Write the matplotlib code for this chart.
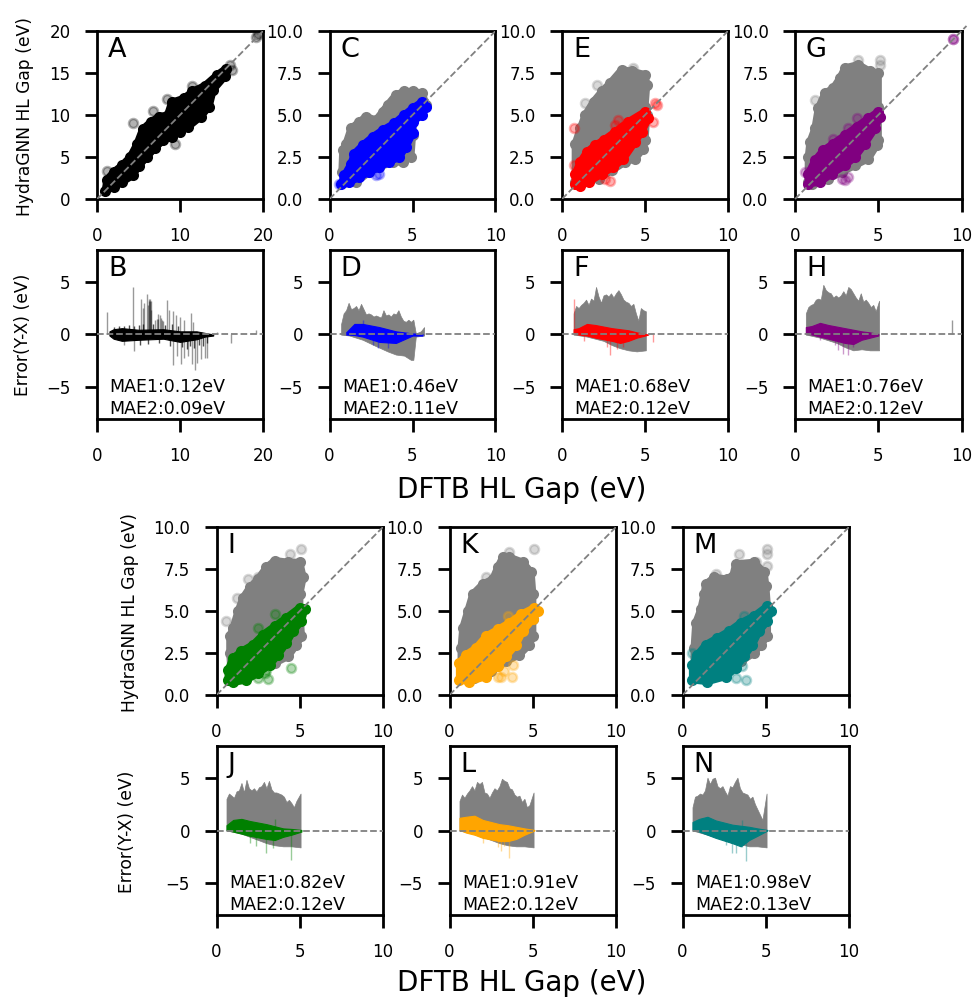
"""plot.py

HydraGNN vs DFTB HL gap parity and error panels.
Clouds are outlines read off the picture, spikes and outliers are listed by hand.
"""

import matplotlib

matplotlib.use("Agg")
import matplotlib.pyplot as plt

W, H = 974, 998
GRAY = "gray"

plt.rcParams.update(
    {
        "axes.linewidth": 2.0,
        "xtick.major.size": 9,
        "ytick.major.size": 9,
        "xtick.major.width": 2.0,
        "ytick.major.width": 2.0,
        "xtick.major.pad": 11,
        "ytick.major.pad": 10,
        "xtick.labelsize": 12,
        "ytick.labelsize": 12,
    }
)

# Parity panels: cloud outlines (x, y) and stray points
A_X = [1, 1.2, 2, 3, 4, 4.8, 5.5, 6.5, 7.5, 8.5, 9, 10.5, 11.5, 13, 14.5, 15.5, 15.4, 14, 13.5, 12.5, 11, 10, 9, 8, 7, 6, 5, 4.3, 3, 2]
A_Y = [1, 2.3, 3.2, 4, 5, 6.5, 8.3, 9.2, 9.8, 10, 11.5, 12, 12.8, 13.5, 14.8, 15.5, 14.6, 13, 11, 9.8, 8.6, 8, 7.4, 7, 6.1, 5, 3.9, 2.8, 2, 1.4]
A_OUT_X = [19.2, 19.4, 16, 16.3, 4.3, 9.4, 11.4, 1.2, 6.8, 8.4, 12.8]
A_OUT_Y = [19.3, 19.6, 16, 15.3, 9, 6.5, 13.4, 3.3, 10.5, 11.9, 11.2]

C_GRAY_X = [0.9, 0.75, 0.8, 1.0, 1.3, 1.8, 2.2, 2.8, 3.2, 3.5, 4.0, 4.5, 5.0, 5.6, 5.8, 5.1, 5.0, 4.9, 4.4, 3.8, 3.0, 2.4, 1.6]
C_GRAY_Y = [1.0, 1.6, 2.9, 3.3, 4.2, 4.6, 4.9, 4.7, 5.2, 5.6, 6.2, 6.4, 6.4, 6.3, 5.6, 4.9, 3.8, 2.5, 2.2, 2.2, 1.9, 1.6, 1.0]
C_X = [0.7, 0.9, 1.3, 1.5, 2.0, 2.6, 3.2, 3.9, 4.5, 5.0, 5.6, 5.8, 5.6, 5.0, 5.0, 4.6, 4.2, 3.6, 3.0, 2.4, 1.8, 1.2]
C_Y = [0.9, 1.4, 2.1, 2.7, 3.2, 3.7, 4.1, 4.5, 5.0, 5.4, 5.8, 5.5, 5.0, 4.6, 3.9, 3.1, 2.5, 2.2, 1.9, 1.6, 1.3, 1.0]
C_OUT_X = [3.0, 2.8, 0.6]
C_OUT_Y = [1.5, 1.4, 0.9]

E_GRAY_X = [0.8, 0.8, 1.1, 1.4, 1.9, 2.4, 2.9, 3.6, 4.2, 5.0, 5.1, 5.0, 5.1, 5.0, 4.9, 4.4, 3.8, 3.0, 2.2, 1.0]
E_GRAY_Y = [1.0, 3.3, 4.2, 5.0, 5.8, 6.4, 6.9, 7.7, 7.6, 7.4, 6.8, 5.5, 5.0, 3.5, 3.0, 2.4, 2.2, 1.7, 1.2, 1.0]
E_GRAY_OUT_X = [1.4, 2.1, 4.3]
E_GRAY_OUT_Y = [5.7, 6.8, 7.8]
E_X = [0.8, 0.8, 1.1, 1.5, 2.0, 2.5, 3.2, 4.0, 5.0, 5.2, 4.8, 4.4, 3.7, 3.1, 2.4, 1.6, 1.1]
E_Y = [0.9, 1.5, 2.2, 2.8, 3.2, 3.5, 4.0, 4.6, 5.2, 4.8, 4.0, 3.4, 2.4, 1.9, 1.5, 1.0, 0.8]
E_OUT_X = [0.7, 5.6, 5.7, 5.5, 3.4, 3.2, 2.6, 2.9, 2.4, 0.7]
E_OUT_Y = [4.2, 5.7, 5.6, 4.6, 4.7, 4.4, 1.2, 1.05, 1.8, 2.0]

G_GRAY_X = [0.8, 0.8, 0.9, 1.2, 1.4, 1.8, 2.3, 2.7, 3.0, 3.8, 4.5, 5.0, 5.0, 5.0, 4.9, 4.4, 3.6, 2.8, 2.0, 1.0]
G_GRAY_Y = [1.0, 2.5, 3.4, 4.2, 5.4, 6.3, 6.6, 7.2, 7.8, 8.0, 7.6, 7.5, 5.5, 3.5, 3.2, 2.4, 2.0, 1.6, 1.2, 0.9]
G_GRAY_OUT_X = [5.1, 5.1, 1.2, 3.8]
G_GRAY_OUT_Y = [8.3, 8.0, 5.9, 8.3]
G_X = [0.8, 0.8, 1.2, 1.7, 2.3, 3.0, 3.7, 4.4, 5.0, 5.1, 4.8, 4.2, 3.6, 3.0, 2.2, 1.5]
G_Y = [0.9, 1.5, 2.3, 2.9, 3.3, 3.8, 4.3, 4.8, 5.2, 4.9, 4.2, 3.3, 2.5, 2.0, 1.5, 1.0]
G_OUT_X = [9.5, 9.5, 0.6, 2.8, 3.2, 3.0, 3.7, 2.3, 3.2]
G_OUT_Y = [9.5, 9.5, 1.6, 1.2, 1.3, 1.15, 4.8, 3.6, 4.2]

I_GRAY_X = [0.9, 0.8, 0.8, 1.0, 1.3, 1.6, 2.0, 2.5, 3.0, 3.5, 4.3, 5.0, 5.2, 5.0, 5.0, 5.1, 4.8, 4.3, 3.5, 2.5, 1.5]
I_GRAY_Y = [1.0, 2.5, 3.5, 4.0, 5.0, 5.8, 6.4, 6.9, 7.6, 8.0, 7.9, 7.9, 7.0, 6.0, 5.0, 3.5, 3.0, 2.3, 1.9, 1.4, 1.0]
I_GRAY_OUT_X = [5.1, 4.4, 1.9, 2.5, 1.25, 0.6]
I_GRAY_OUT_Y = [8.7, 8.4, 6.9, 7.0, 5.8, 4.4]
I_X = [0.7, 0.7, 1.0, 1.5, 2.2, 2.8, 3.5, 4.2, 5.0, 5.3, 5.1, 4.6, 4.2, 3.7, 3.2, 2.5, 1.8, 1.0]
I_Y = [0.9, 1.5, 2.2, 2.6, 3.0, 3.6, 4.1, 4.6, 5.2, 5.1, 4.4, 3.8, 3.1, 2.4, 1.8, 1.3, 0.9, 0.75]
I_OUT_X = [4.45, 3.1, 2.9, 2.5, 3.5, 2.5, 3.0]
I_OUT_Y = [1.6, 0.95, 1.3, 1.0, 4.8, 4.0, 1.5]

K_GRAY_X = [0.7, 0.7, 0.8, 1.1, 1.4, 2.0, 2.6, 2.9, 3.2, 3.6, 4.4, 4.9, 5.0, 5.0, 5.0, 4.8, 4.2, 3.4, 2.5, 1.5]
K_GRAY_Y = [1.0, 2.8, 4.0, 5.0, 6.0, 6.6, 6.9, 7.6, 8.2, 8.2, 7.9, 7.3, 6.0, 4.5, 3.5, 3.0, 2.4, 2.0, 1.4, 1.0]
K_GRAY_OUT_X = [5.1, 3.6, 2.2]
K_GRAY_OUT_Y = [8.7, 8.5, 7.0]
K_X = [0.6, 0.6, 1.0, 1.6, 2.2, 2.9, 3.6, 4.3, 5.1, 5.3, 5.0, 4.4, 4.0, 3.4, 2.9, 2.2, 1.2]
K_Y = [0.9, 1.9, 2.4, 2.8, 3.5, 3.9, 4.3, 4.8, 5.2, 5.0, 4.5, 3.8, 3.0, 2.3, 1.7, 1.1, 0.8]
K_OUT_X = [3.8, 3.75, 3.1, 2.9, 3.3, 3.5]
K_OUT_Y = [1.8, 1.05, 1.05, 1.1, 1.4, 4.7]

M_GRAY_X = [0.7, 0.7, 0.8, 1.1, 1.3, 1.4, 1.9, 2.7, 3.0, 3.2, 4.3, 4.9, 5.0, 5.1, 5.1, 4.7, 4.3, 3.5, 2.5, 1.5]
M_GRAY_Y = [1.0, 2.8, 4.3, 5.1, 6.0, 6.6, 7.0, 6.9, 7.0, 7.8, 7.9, 7.3, 6.5, 5.2, 3.5, 3.0, 2.5, 2.0, 1.4, 1.0]
M_GRAY_OUT_X = [5.1, 5.1, 5.1, 3.4, 2.0, 4.4]
M_GRAY_OUT_Y = [8.7, 8.4, 7.7, 8.4, 7.2, 7.9]
M_X = [0.6, 0.6, 0.9, 1.4, 2.1, 2.8, 3.5, 4.3, 5.1, 5.3, 5.1, 4.6, 4.2, 3.7, 3.2, 2.6, 1.5]
M_Y = [0.9, 1.8, 2.4, 3.0, 3.4, 3.8, 4.3, 4.7, 5.3, 5.0, 4.4, 3.8, 3.0, 2.3, 1.6, 1.1, 0.8]
M_OUT_X = [3.8, 3.2, 3.6, 3.7, 0.6]
M_OUT_Y = [0.9, 1.0, 1.7, 4.7, 2.5]

# Error panels: top edge of gray band on its own x list, bottom edge on a coarser one
B_BAND_X = [1.5, 2, 3, 5, 8, 10, 12, 13, 14]
B_BAND_HI = [0.3, 0.5, 0.6, 0.45, 0.5, 0.3, 0.3, 0.15, 0.0]
B_BAND_LO = [-0.1, -0.4, -0.6, -0.5, -0.4, -0.7, -0.45, -0.2, -0.1]
B_UP_X = [1.2, 4.3, 5.3, 5.5, 5.7, 6.0, 6.2, 6.25, 6.3, 6.35, 6.4, 6.45, 6.5, 7.0, 7.2, 7.3, 7.4, 7.6, 7.7, 7.8, 7.9, 8.4, 8.7, 9.2, 9.5, 10, 10.5, 11.3, 11.6, 14.5, 19.2]
B_UP_Y = [2.1, 4.5, 3.4, 2.5, 3.0, 3.8, 2.8, 3.2, 3.4, 3.4, 3.2, 3.2, 2.3, 1.4, 1.5, 1.9, 1.5, 1.8, 1.6, 1.4, 1.3, 3.3, 2.3, 2.2, 1.8, 1.7, 1.4, 2.0, 1.2, 0.2, 0.4]
B_DOWN_X = [3.2, 4.5, 9.2, 9.6, 10.1, 10.5, 11, 11.4, 11.8, 12.1, 12.5, 13, 13.3, 16.2]
B_DOWN_Y = [-1.0, -1.6, -2.9, -2.0, -2.8, -2.2, -2.0, -2.8, -3.4, -2.7, -2.3, -2.2, -2.2, -0.8]
B_HAIR_X = [2.0, 2.6, 3.2, 3.8, 4.4, 5.0, 5.6, 6.8, 8.2, 9.0, 9.8, 10.3, 10.8, 11.2, 11.7, 12.3, 12.8, 13.2, 5.2, 6.2, 7.5, 8.8]
B_HAIR_Y = [0.7, 0.8, 0.8, 0.9, 0.8, 0.9, 1.0, 1.0, 0.9, 1.0, 0.8, -1.2, -1.4, -1.1, -1.3, -1.0, -1.1, -0.8, -1.0, -0.9, -0.8, -1.1]

D_GRAY_X = [0.7, 0.85, 1, 1.15, 1.3, 1.45, 1.6, 1.75, 1.9, 2.05, 2.2, 2.35, 2.5, 2.65, 2.8, 2.95, 3.1, 3.25, 3.4, 3.55, 3.7, 3.85, 4, 4.15, 4.3, 4.45, 4.6, 4.75, 4.9, 5.05, 5.2, 5.5, 5.7]
D_GRAY_HI = [1.0, 2.0, 2.3, 3.0, 2.4, 2.5, 2.7, 2.3, 2.9, 2.4, 1.9, 2.0, 1.9, 1.7, 1.8, 1.7, 1.6, 2.3, 1.8, 1.9, 1.7, 2.0, 1.9, 2.3, 1.7, 1.3, 1.2, 1.4, 1.2, 1.4, 0.1, 0.3, 0.7]
D_LOW_X = [0.7, 1.2, 2, 2.8, 3.5, 4, 4.5, 4.9, 5.05, 5.2, 5.7]
D_LOW_Y = [0, -0.1, -0.5, -1.1, -1.6, -1.9, -2.0, -2.4, -2.4, -0.2, -0.1]
D_BAND_X = [1.0, 1.5, 2, 3, 4, 5, 5.6]
D_BAND_HI = [0.2, 1.0, 1.0, 0.7, 0.3, 0.1, 0.05]
D_BAND_LO = [0, -0.05, -0.2, -0.7, -0.8, -0.1, -0.1]
D_SPIKE_X = [2.9, 2.6, 3.5, 2.0]
D_SPIKE_Y = [-1.3, -1.0, -1.3, 1.4]

F_GRAY_X = [0.7, 0.85, 1, 1.15, 1.3, 1.45, 1.6, 1.75, 1.9, 2.05, 2.2, 2.35, 2.5, 2.65, 2.8, 2.95, 3.1, 3.25, 3.4, 3.55, 3.7, 3.85, 4, 4.15, 4.3, 4.45, 4.6, 4.75, 4.9, 5.05]
F_GRAY_HI = [2.0, 2.7, 2.5, 2.8, 3.0, 3.3, 2.8, 3.4, 3.2, 4.5, 3.6, 3.0, 3.7, 3.8, 3.6, 3.9, 3.5, 3.9, 4.2, 3.8, 3.3, 3.1, 3.0, 2.7, 2.9, 2.0, 1.3, 2.5, 2.3, 2.2]
F_LOW_X = [0.7, 1.5, 2.5, 3, 3.5, 4, 4.5, 5.05]
F_LOW_Y = [0, -0.2, -0.6, -1.0, -1.3, -1.5, -1.6, -1.5]
F_BAND_X = [0.7, 1, 1.5, 2, 3, 3.5, 4, 4.5, 5, 5.2]
F_BAND_HI = [0.5, 0.6, 1.0, 0.9, 0.6, 0.5, 0.4, 0.2, 0.05, 0]
F_BAND_LO = [0.1, 0, -0.1, -0.3, -0.6, -0.8, -0.6, -0.3, -0.1, 0]
F_SPIKE_X = [0.7, 2.7, 2.9, 3.3, 3.7, 5.5, 1.3]
F_SPIKE_Y = [3.4, -1.2, -1.9, -1.4, -1.2, -0.7, -0.6]

H_GRAY_X = [0.65, 0.8, 0.95, 1.1, 1.25, 1.4, 1.55, 1.7, 1.85, 2, 2.15, 2.3, 2.45, 2.6, 2.75, 2.9, 3.05, 3.2, 3.35, 3.5, 3.65, 3.8, 3.95, 4.1, 4.25, 4.4, 4.55, 4.7, 4.85, 5.05]
H_GRAY_HI = [2.0, 2.6, 2.8, 2.9, 3.3, 3.4, 3.3, 4.7, 4.2, 4.0, 3.9, 3.5, 3.7, 3.5, 3.7, 4.1, 3.7, 4.5, 4.3, 3.9, 3.5, 3.2, 3.9, 3.1, 3.3, 3.0, 2.6, 2.8, 2.2, 3.2]
H_LOW_X = [0.65, 1.5, 2.5, 3, 3.5, 4, 4.5, 5.05]
H_LOW_Y = [0, -0.3, -0.8, -1.2, -1.5, -1.4, -1.5, -1.5]
H_BAND_X = [0.65, 1, 1.5, 2, 3, 3.5, 4, 4.5, 5]
H_BAND_HI = [0.7, 0.8, 1.1, 0.9, 0.6, 0.45, 0.3, 0.2, 0.05]
H_BAND_LO = [0.1, 0, -0.2, -0.4, -0.8, -0.9, -0.5, -0.3, -0.1]
H_SPIKE_X = [2.6, 2.9, 3.2, 2.4, 3.5, 1.5]
H_SPIKE_Y = [-1.5, -1.8, -1.9, -1.0, -1.2, -0.5]
H_GRAY_SPIKE_X = [9.45]
H_GRAY_SPIKE_Y = [1.4]

J_GRAY_X = [0.6, 0.75, 0.9, 1.05, 1.2, 1.35, 1.5, 1.65, 1.8, 1.95, 2.1, 2.25, 2.4, 2.55, 2.7, 2.85, 3, 3.15, 3.3, 3.45, 3.6, 3.75, 3.9, 4.05, 4.2, 4.35, 4.5, 4.65, 4.8, 5.05]
J_GRAY_HI = [3.0, 3.5, 3.3, 3.1, 3.7, 3.8, 4.5, 3.6, 4.8, 4.0, 3.8, 4.0, 3.7, 4.1, 4.2, 4.6, 4.0, 4.7, 3.9, 3.6, 3.6, 3.5, 3.4, 3.2, 2.7, 2.9, 2.6, 2.2, 2.8, 3.5]
J_LOW_X = [0.6, 1.5, 2.5, 3, 3.5, 4, 4.5, 5.05]
J_LOW_Y = [0, -0.3, -0.9, -1.2, -1.4, -1.5, -1.5, -1.6]
J_BAND_X = [0.6, 1, 1.5, 2, 3, 3.5, 4, 4.5, 5.1]
J_BAND_HI = [0.5, 1.0, 1.1, 0.9, 0.6, 0.4, 0.2, 0.15, 0.05]
J_BAND_LO = [0.05, -0.1, -0.3, -0.5, -0.8, -0.9, -0.6, -0.4, -0.1]
J_SPIKE_X = [2.4, 3.0, 3.4, 4.45, 3.5, 2.0]
J_SPIKE_Y = [-1.5, -2.1, -1.7, -2.8, 1.1, -1.2]

L_GRAY_X = [0.6, 0.75, 0.9, 1.05, 1.2, 1.35, 1.5, 1.65, 1.8, 1.95, 2.1, 2.25, 2.4, 2.55, 2.7, 2.85, 3, 3.15, 3.3, 3.45, 3.6, 3.75, 3.9, 4.05, 4.2, 4.35, 4.5, 4.65, 4.8, 5.05]
L_GRAY_HI = [2.8, 3.4, 3.1, 3.5, 3.8, 4.2, 3.8, 4.6, 4.4, 4.6, 3.6, 3.5, 3.1, 3.6, 4.0, 3.8, 4.2, 4.9, 4.7, 4.6, 4.0, 3.9, 3.4, 3.2, 3.3, 2.7, 3.0, 2.2, 2.4, 3.6]
L_LOW_X = [0.6, 1.5, 2.5, 3, 3.5, 4, 4.5, 5.05]
L_LOW_Y = [0, -0.3, -0.9, -1.2, -1.4, -1.5, -1.5, -1.6]
L_BAND_X = [0.6, 1, 1.5, 2, 3, 3.5, 4, 4.5, 5.1]
L_BAND_HI = [1.2, 1.3, 1.4, 1.0, 0.6, 0.5, 0.35, 0.2, 0.05]
L_BAND_LO = [0.05, -0.2, -0.4, -0.7, -1.0, -1.0, -0.8, -0.4, 0]
L_SPIKE_X = [2.0, 2.9, 3.1, 3.6, 3.3]
L_SPIKE_Y = [-1.2, -1.6, -1.9, -2.6, -1.5]

N_GRAY_X = [0.6, 0.75, 0.9, 1.05, 1.2, 1.35, 1.5, 1.65, 1.8, 1.95, 2.1, 2.25, 2.4, 2.55, 2.7, 2.85, 3, 3.15, 3.3, 3.45, 3.6, 3.75, 3.9, 4.05, 4.2, 4.35, 4.5, 4.65, 4.8, 5.05]
N_GRAY_HI = [2.2, 3.2, 3.3, 3.5, 3.4, 3.8, 5.0, 4.4, 4.9, 5.0, 4.2, 4.0, 4.2, 3.7, 3.3, 4.2, 4.1, 4.6, 5.0, 4.0, 3.6, 3.5, 3.4, 3.0, 3.2, 2.5, 2.0, 1.5, 1.0, 3.5]
N_LOW_X = [0.6, 1.5, 2.5, 3, 3.5, 4, 4.5, 5.05]
N_LOW_Y = [0, -0.4, -0.9, -1.2, -1.3, -1.5, -1.5, -1.6]
N_BAND_X = [0.6, 1, 1.5, 2, 3, 3.5, 4, 4.5, 5.1]
N_BAND_HI = [0.8, 1.1, 1.3, 0.95, 0.55, 0.45, 0.35, 0.2, 0.05]
N_BAND_LO = [0.1, -0.1, -0.4, -0.7, -1.2, -1.5, -0.9, -0.5, 0]
N_SPIKE_X = [2.6, 3.0, 3.2, 3.8, 3.6, 3.6]
N_SPIKE_Y = [-1.4, -2.1, -2.1, -2.9, -1.6, 1.0]

MAE1 = ["0.12", "0.46", "0.68", "0.76", "0.82", "0.91", "0.98"]
MAE2 = ["0.09", "0.11", "0.12", "0.12", "0.12", "0.12", "0.13"]
COLORS = ["black", "blue", "red", "purple", "green", "orange", "teal"]


def add_axes(fig, left, top, right, bottom, xmax):
    """Add axes from pixel edges; the heavy frame and ticks come from rcParams."""
    ax = fig.add_axes([left / W, 1 - bottom / H, (right - left) / W, (bottom - top) / H])
    ax.set_xlim(0, xmax)
    ax.set_xticks([0, xmax / 2, xmax])
    ax.set_xticklabels([f"{v:g}" for v in (0, xmax / 2, xmax)])
    return ax


def scatter_cloud(ax, xs, ys, color, stray_x=(), stray_y=()):
    """Stroked outline with blobs on its points, and pale rings for stray points."""
    ax.fill(xs, ys, facecolor=color, edgecolor=color, lw=5.2, joinstyle="round")
    ax.scatter(xs, ys, s=42, color=color, linewidths=1.5)
    if len(stray_x):
        ax.scatter(stray_x, stray_y, s=42, color=color, alpha=0.3, linewidths=1.8)


def parity_panel(fig, box, letter, lim, ticks, clouds, over=False):
    ax = add_axes(fig, *box, lim)
    for cloud in clouds:
        scatter_cloud(ax, *cloud)
    end = lim * 1.03 if over else lim
    ax.plot([0, end], [0, end], "--", color=GRAY, lw=1.3, zorder=5, clip_on=not over)
    ax.set_ylim(0, lim)
    ax.set_yticks(ticks)
    ax.set_yticklabels([f"{t:.1f}" if lim == 10 else f"{t:g}" for t in ticks])
    ax.text(0.066, 0.845, letter, transform=ax.transAxes, fontsize=19.5)
    return ax


def spikes(ax, xs, ys, color, alpha=0.4):
    ax.vlines(xs, 0, ys, color=color, lw=1.0, alpha=alpha)


def error_panel(fig, box, letter, lim, idx, gray=None, band=None, spike=None):
    ax = add_axes(fig, *box, lim)
    color = COLORS[idx]
    if gray:
        gx, ghi, lx, ly = gray
        ax.fill_between(gx, 0, ghi, color=GRAY, lw=0.5)
        ax.fill_between(lx, 0, ly, color=GRAY, lw=0.5)
    ax.fill_between(band[0], band[2], band[1], color=color, lw=0.8)
    spikes(ax, *spike, color)
    ax.axhline(0, color=GRAY, ls="--", lw=1.3, zorder=5)
    ax.set_ylim(-8, 8)
    ax.set_yticks([-5, 0, 5])
    ax.text(0.066, 0.847, letter, transform=ax.transAxes, fontsize=19.5)
    ax.text(
        0.075, 0.03, f"MAE1:{MAE1[idx]}eV\nMAE2:{MAE2[idx]}eV",
        transform=ax.transAxes, fontsize=12.5, linespacing=1.3, va="baseline",
    )
    return ax


fig = plt.figure(figsize=(W / 100, H / 100), dpi=100)

t20 = [0, 5, 10, 15, 20]
t10 = [0, 2.5, 5, 7.5, 10]

# Top block
parity_panel(fig, (97, 31, 263, 199), "A", 20, t20, [(A_X, A_Y, "black", A_OUT_X, A_OUT_Y)])
parity_panel(fig, (329.5, 31, 495.5, 199), "C", 10, t10,
             [(C_GRAY_X, C_GRAY_Y, GRAY), (C_X, C_Y, "blue", C_OUT_X, C_OUT_Y)])
parity_panel(fig, (562, 31, 728, 199), "E", 10, t10,
             [(E_GRAY_X, E_GRAY_Y, GRAY, E_GRAY_OUT_X, E_GRAY_OUT_Y), (E_X, E_Y, "red", E_OUT_X, E_OUT_Y)])
parity_panel(fig, (795, 31, 961.5, 199), "G", 10, t10,
             [(G_GRAY_X, G_GRAY_Y, GRAY, G_GRAY_OUT_X, G_GRAY_OUT_Y), (G_X, G_Y, "purple", G_OUT_X, G_OUT_Y)], over=True)

ax_b = error_panel(fig, (97, 250, 263, 419), "B", 20, 0,
                   band=(B_BAND_X, B_BAND_HI, B_BAND_LO), spike=(B_UP_X, B_UP_Y))
spikes(ax_b, B_DOWN_X, B_DOWN_Y, "black")
spikes(ax_b, B_HAIR_X, B_HAIR_Y, "black", alpha=0.7)
error_panel(fig, (329.5, 250, 495.5, 419), "D", 10, 1,
            gray=(D_GRAY_X, D_GRAY_HI, D_LOW_X, D_LOW_Y),
            band=(D_BAND_X, D_BAND_HI, D_BAND_LO), spike=(D_SPIKE_X, D_SPIKE_Y))
error_panel(fig, (562, 250, 728, 419), "F", 10, 2,
            gray=(F_GRAY_X, F_GRAY_HI, F_LOW_X, F_LOW_Y),
            band=(F_BAND_X, F_BAND_HI, F_BAND_LO), spike=(F_SPIKE_X, F_SPIKE_Y))
ax_h = error_panel(fig, (795, 250, 961.5, 419), "H", 10, 3,
                   gray=(H_GRAY_X, H_GRAY_HI, H_LOW_X, H_LOW_Y),
                   band=(H_BAND_X, H_BAND_HI, H_BAND_LO), spike=(H_SPIKE_X, H_SPIKE_Y))
spikes(ax_h, H_GRAY_SPIKE_X, H_GRAY_SPIKE_Y, GRAY, alpha=0.8)

# Bottom block
parity_panel(fig, (216.5, 527, 383, 695), "I", 10, t10,
             [(I_GRAY_X, I_GRAY_Y, GRAY, I_GRAY_OUT_X, I_GRAY_OUT_Y), (I_X, I_Y, "green", I_OUT_X, I_OUT_Y)])
parity_panel(fig, (449.5, 527, 616, 695), "K", 10, t10,
             [(K_GRAY_X, K_GRAY_Y, GRAY, K_GRAY_OUT_X, K_GRAY_OUT_Y), (K_X, K_Y, "orange", K_OUT_X, K_OUT_Y)])
parity_panel(fig, (682.5, 527, 849, 695), "M", 10, t10,
             [(M_GRAY_X, M_GRAY_Y, GRAY, M_GRAY_OUT_X, M_GRAY_OUT_Y), (M_X, M_Y, "teal", M_OUT_X, M_OUT_Y)])

error_panel(fig, (216.5, 746, 383, 915), "J", 10, 4,
            gray=(J_GRAY_X, J_GRAY_HI, J_LOW_X, J_LOW_Y),
            band=(J_BAND_X, J_BAND_HI, J_BAND_LO), spike=(J_SPIKE_X, J_SPIKE_Y))
error_panel(fig, (449.5, 746, 616, 915), "L", 10, 5,
            gray=(L_GRAY_X, L_GRAY_HI, L_LOW_X, L_LOW_Y),
            band=(L_BAND_X, L_BAND_HI, L_BAND_LO), spike=(L_SPIKE_X, L_SPIKE_Y))
error_panel(fig, (682.5, 746, 849, 915), "N", 10, 6,
            gray=(N_GRAY_X, N_GRAY_HI, N_LOW_X, N_LOW_Y),
            band=(N_BAND_X, N_BAND_HI, N_BAND_LO), spike=(N_SPIKE_X, N_SPIKE_Y))

# Shared labels
for x, y, label, size in [
    (25, 116, "HydraGNN HL Gap (eV)", 12.3),
    (23, 335, "Error(Y-X) (eV)", 12.3),
    (130, 612, "HydraGNN HL Gap (eV)", 12.3),
    (127, 832, "Error(Y-X) (eV)", 12.3),
]:
    fig.text(x / W, 1 - y / H, label, rotation=90, ha="center", va="center", fontsize=size)

fig.text(522 / W, 1 - 490 / H, "DFTB HL Gap (eV)", ha="center", va="center", fontsize=20)
fig.text(522 / W, 1 - 983 / H, "DFTB HL Gap (eV)", ha="center", va="center", fontsize=20)

fig.savefig("out.png", dpi=100)
plt.close(fig)
